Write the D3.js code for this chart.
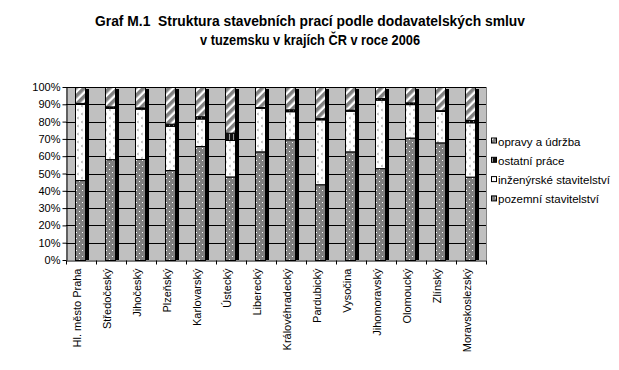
<!DOCTYPE html>
<html>
<head>
<meta charset="utf-8">
<script src="https://cdn.jsdelivr.net/npm/d3@7"></script>
<style>
  body { margin: 0; background: #fff; }
  svg { display: block; font-family: Arial, "Liberation Sans", sans-serif; }
  .title { white-space: pre; }
</style>
</head>
<body>
<div id="chart"></div>
<script>
// data (shares in %)
const regions = ["Hl. město Praha", "Středočeský", "Jihočeský", "Plzeňský", "Karlovarský",
  "Ústecký", "Liberecký", "Královéhradecký", "Pardubický", "Vysočina",
  "Jihomoravský", "Olomoucký", "Zlínský", "Moravskoslezský"];
const pozemni   = [46.2, 58.3, 58.4, 52.0, 65.9, 48.3, 62.8, 69.8, 43.8, 62.8, 53.1, 70.8, 68.0, 48.2];
const inzenyrske = [44.0, 29.7, 29.1, 25.6, 15.9, 21.1, 25.2, 16.2, 37.5, 23.5, 39.6, 19.3, 18.2, 31.4];
const ostatni   = [0.6, 0.8, 0.7, 1.2, 1.3, 4.2, 0.4, 1.1, 0.7, 0.6, 0.9, 1.0, 0.4, 1.3];
const opravy    = [9.2, 11.2, 11.8, 21.2, 16.9, 26.4, 11.6, 12.9, 18.0, 13.1, 6.4, 8.9, 13.4, 19.1];
const seriesNames = ["pozemní stavitelství", "inženýrské stavitelství", "ostatní práce", "opravy a údržba"];
const yTicks = [0, 10, 20, 30, 40, 50, 60, 70, 80, 90, 100];
const titleLines = ["Graf M.1  Struktura stavebních prací podle dodavatelských smluv",
  "v tuzemsku v krajích ČR v roce 2006"];

const width = 619, height = 370;
const plot = { left: 66, right: 486, top: 87, bottom: 260 };

const svg = d3.select("#chart").append("svg")
  .attr("width", width).attr("height", height);

// fill patterns
const defs = svg.append("defs");
const pDots = defs.append("pattern").attr("id", "p-poz")
  .attr("patternUnits", "userSpaceOnUse").attr("width", 6).attr("height", 6);
pDots.append("rect").attr("width", 6).attr("height", 6).attr("fill", "#7f7f7f");
pDots.append("rect").attr("x", 1).attr("y", 1).attr("width", 1).attr("height", 1).attr("fill", "#fff");
pDots.append("rect").attr("x", 4).attr("y", 4).attr("width", 1).attr("height", 1).attr("fill", "#fff");

const pInz = defs.append("pattern").attr("id", "p-inz")
  .attr("patternUnits", "userSpaceOnUse").attr("width", 8).attr("height", 8);
pInz.append("rect").attr("width", 8).attr("height", 8).attr("fill", "#fff");
pInz.append("path").attr("d", "M3,1 L1,2 L3,3 M7,5 L5,6 L7,7")
  .attr("stroke", "#a8a8a8").attr("stroke-width", 0.8).attr("fill", "none");

const pOst = defs.append("pattern").attr("id", "p-ost")
  .attr("patternUnits", "userSpaceOnUse").attr("width", 4).attr("height", 4);
pOst.append("rect").attr("width", 4).attr("height", 4).attr("fill", "#111");
pOst.append("rect").attr("x", 1).attr("width", 1).attr("height", 4).attr("fill", "#9a9a9a");

const pOpr = defs.append("pattern").attr("id", "p-opr")
  .attr("patternUnits", "userSpaceOnUse").attr("width", 6).attr("height", 6)
  .attr("patternTransform", "rotate(45)");
pOpr.append("rect").attr("width", 6).attr("height", 6).attr("fill", "#fff");
pOpr.append("rect").attr("width", 3.6).attr("height", 6).attr("fill", "#808080");

const fills = ["url(#p-poz)", "url(#p-inz)", "url(#p-ost)", "url(#p-opr)"];

// scales
const x = d3.scaleBand().domain(regions).range([plot.left, plot.right]);
const y = d3.scaleLinear().domain([0, 100]).range([plot.bottom, plot.top]);

// plot area
svg.append("rect")
  .attr("x", plot.left).attr("y", plot.top)
  .attr("width", plot.right - plot.left).attr("height", plot.bottom - plot.top)
  .attr("fill", "#c0c0c0");

svg.append("g").selectAll("line").data(yTicks.slice(1)).join("line")
  .attr("x1", plot.left).attr("x2", plot.right)
  .attr("y1", d => Math.round(y(d)) + 0.5).attr("y2", d => Math.round(y(d)) + 0.5)
  .attr("stroke", "#000");

svg.append("line")
  .attr("x1", plot.right + 0.5).attr("x2", plot.right + 0.5)
  .attr("y1", plot.top).attr("y2", plot.bottom)
  .attr("stroke", "#808080");

// stacked bars
const rows = regions.map((r, i) => ({ region: r, v: [pozemni[i], inzenyrske[i], ostatni[i], opravy[i]] }));
const stackData = rows.map(row => {
  let acc = 0;
  return row.v.map((v, k) => { const s = { region: row.region, k, y0: acc, y1: acc + v }; acc += v; return s; });
});

const barOff = 9, barW = 11, sideW = 3;
const bars = svg.append("g");
// black depth side
bars.selectAll("rect.side").data(rows).join("rect")
  .attr("class", "side")
  .attr("x", d => x(d.region) + barOff + barW)
  .attr("y", d => y(d3.sum(d.v)) + 2)
  .attr("width", sideW)
  .attr("height", d => plot.bottom - y(d3.sum(d.v)) - 2)
  .attr("fill", "#000");

bars.selectAll("g.col").data(stackData).join("g").attr("class", "col")
  .selectAll("rect").data(d => d).join("rect")
  .attr("x", d => x(d.region) + barOff + 0.5)
  .attr("y", d => y(d.y1) + 0.5)
  .attr("width", barW - 1)
  .attr("height", d => Math.max(0, y(d.y0) - y(d.y1)))
  .attr("fill", d => fills[d.k])
  .attr("stroke", "#000").attr("stroke-width", 1);

// y axis
const yAxis = svg.append("g")
  .attr("transform", `translate(${plot.left + 0.5},0)`)
  .call(d3.axisLeft(y).tickValues(yTicks).tickFormat(d => d + "%").tickSize(4).tickSizeOuter(0));
yAxis.select(".domain").attr("stroke", "#000");
yAxis.selectAll(".tick line").attr("stroke", "#000");
yAxis.selectAll(".tick text").attr("font-size", 11).attr("fill", "#000")
  .attr("font-family", "Arial, 'Liberation Sans', sans-serif").attr("x", -6);

// x axis
const xAxis = svg.append("g")
  .attr("transform", `translate(0,${plot.bottom + 0.5})`)
  .call(d3.axisBottom(x).tickSize(0).tickSizeOuter(0));
xAxis.select(".domain").attr("stroke", "#000");
xAxis.selectAll(".tick text")
  .attr("font-size", 11).attr("fill", "#000")
  .attr("font-family", "Arial, 'Liberation Sans', sans-serif")
  .attr("transform", "rotate(-90)")
  .attr("text-anchor", "end")
  .attr("x", -8).attr("y", -4).attr("dy", "0.35em");
xAxis.append("g").selectAll("line").data(d3.range(regions.length + 1)).join("line")
  .attr("x1", i => Math.round(plot.left + i * x.step()) + 0.5)
  .attr("x2", i => Math.round(plot.left + i * x.step()) + 0.5)
  .attr("y1", 0).attr("y2", 4)
  .attr("stroke", "#000");

// legend
const legend = svg.append("g").attr("transform", "translate(491,141.5)");
const legendOrder = [3, 2, 1, 0];
legendOrder.forEach((k, i) => {
  const g = legend.append("g").attr("transform", `translate(0,${i * 19.3})`);
  g.append("rect").attr("x", 0.5).attr("y", -3.5).attr("width", 5).attr("height", 5)
    .attr("fill", fills[k]).attr("stroke", "#000");
  g.append("text").attr("x", 7).attr("y", 0).attr("dy", "0.35em")
    .attr("font-size", 11.5).text(seriesNames[k]);
});

// title
svg.append("g").selectAll("text").data(titleLines).join("text")
  .attr("class", "title")
  .attr("x", 310).attr("y", (d, i) => 26 + i * 19)
  .attr("text-anchor", "middle")
  .attr("font-family", "'Liberation Sans Narrow', 'Arial Narrow', Arial, sans-serif")
  .attr("font-weight", "bold").attr("font-size", 14)
  .attr("textLength", (d, i) => i === 0 ? 430 : 220)
  .attr("lengthAdjust", "spacingAndGlyphs")
  .text(d => d);
</script>
</body>
</html>
